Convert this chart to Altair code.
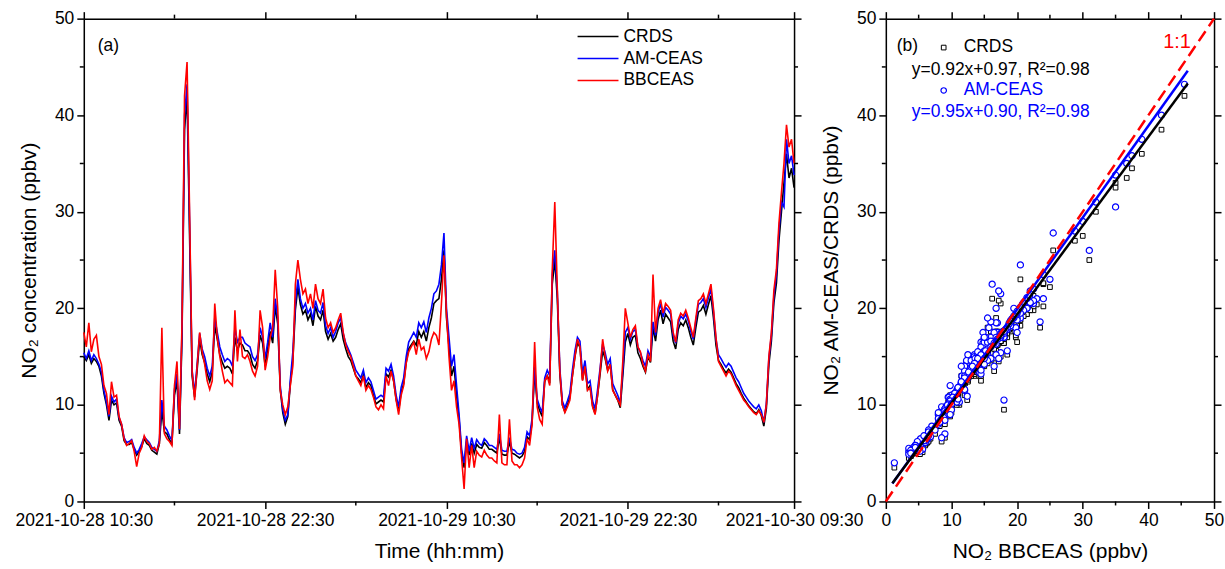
import altair as alt
import pandas as pd

FONT = "Liberation Sans"

# ---------------- data (10-min steps from 2021-10-28 10:30) ----------------
bbceas = [
    17.5, 16.0, 18.5, 15.5, 16.8, 17.2,
    15.0, 14.2, 12.0, 11.2, 9.0, 12.4,
    10.8, 11.0, 8.8, 8.0, 6.5, 5.8,
    6.0, 6.3, 5.2, 3.6, 5.0, 5.6,
    6.8, 6.2, 6.0, 5.4, 5.6, 5.2,
    6.0, 18.0, 7.0, 6.5, 6.2, 5.8,
    12.0, 14.5, 7.5, 18.5, 42.0, 45.5,
    30.0, 13.5, 10.5, 14.0, 17.5, 15.5,
    14.2, 12.5, 11.6, 12.5, 20.5, 17.0,
    15.0, 13.5, 12.3, 12.6, 12.3, 12.0,
    19.8, 14.5, 17.8, 15.0, 14.8, 15.2,
    14.5, 13.5, 13.0, 14.0, 19.8, 18.0,
    13.6, 15.0, 17.0, 18.0, 24.0, 20.0,
    11.5, 10.0, 9.0, 9.8, 12.0, 14.0,
    22.5, 25.0, 23.0, 21.5, 22.0, 20.5,
    21.5, 20.0, 22.5, 21.0, 20.5, 22.0,
    19.0, 18.0, 18.5, 17.5, 18.0, 18.8,
    19.5, 17.5, 16.2, 15.5, 15.0, 14.0,
    13.0, 12.5, 12.0, 13.0, 11.5, 12.0,
    11.6, 10.8, 9.8, 9.5, 10.0, 9.6,
    13.0, 12.0, 13.5, 12.5, 10.5, 9.0,
    11.0, 12.0, 14.3, 15.5, 16.0, 16.5,
    15.2, 16.8, 15.7, 16.0, 14.8, 15.5,
    16.8, 17.5, 17.2, 16.2, 20.5, 25.5,
    19.5, 15.0, 11.5, 12.5, 9.8, 8.0,
    4.5, 1.3, 6.5, 3.5, 5.8, 3.5,
    5.2, 4.8, 4.6, 5.3, 4.8, 4.5,
    4.5, 4.2, 4.0, 9.0, 4.0, 3.8,
    3.8, 8.5, 4.2, 3.8, 3.8, 3.5,
    3.8, 4.5, 6.5, 5.8, 8.0, 16.5,
    9.8, 8.5, 8.0, 12.5, 13.0, 12.0,
    24.0, 31.0, 22.0, 13.5, 10.0, 9.2,
    9.8, 10.5, 13.0, 15.0, 16.8, 16.0,
    12.5, 14.0, 11.5, 11.8, 9.8, 9.0,
    11.0, 13.5, 16.8, 15.0, 13.5, 14.2,
    11.5, 11.0, 10.5, 10.0, 14.5, 20.0,
    18.5, 17.0, 17.8, 18.2, 16.0, 15.5,
    14.2, 13.5, 15.2, 14.5, 23.5, 17.5,
    20.0, 20.9, 19.5, 20.5, 20.2, 19.8,
    17.5, 16.5, 18.8, 19.5, 19.2, 19.8,
    19.0, 18.0, 17.0, 19.0, 20.8, 21.0,
    21.5, 20.5, 21.5, 22.5, 20.0, 17.0,
    14.5, 14.0, 13.5, 13.0, 13.5, 13.2,
    12.6, 12.0, 11.5, 11.0, 10.5, 10.2,
    9.8, 9.5, 9.2, 9.0, 9.4, 9.0,
    8.2, 10.0, 15.0, 17.5, 21.9, 24.0,
    28.8, 32.0, 35.0, 39.0, 36.7, 37.5,
    35.0,
]

crds = [
    15.0, 14.6, 15.2, 14.3, 14.8, 14.5,
    14.0, 13.0, 11.2, 10.0, 8.4, 10.5,
    10.0, 10.2, 8.4, 7.8, 6.3, 5.9,
    5.9, 6.1, 5.4, 4.8, 5.2, 5.7,
    6.5, 6.0, 5.8, 5.3, 5.1, 4.9,
    6.0, 9.5, 7.2, 7.0, 6.4, 6.0,
    11.0, 12.5, 7.0, 17.0, 38.5, 42.0,
    27.5, 13.0, 10.8, 13.6, 16.8, 15.2,
    14.4, 13.2, 12.4, 13.4, 18.2, 16.8,
    15.2, 14.4, 13.8, 14.0, 13.8, 13.2,
    17.0, 15.6, 16.4, 16.2, 15.6, 15.6,
    15.2, 14.2, 13.8, 14.6, 17.2, 16.4,
    14.0, 15.8, 17.6, 16.4, 20.2, 18.4,
    11.6, 9.2, 8.0, 8.8, 12.2, 14.6,
    19.8, 22.2, 20.4, 19.4, 19.8, 18.8,
    19.4, 18.2, 20.2, 19.2, 18.8, 19.8,
    17.6, 16.8, 17.4, 16.6, 17.0, 17.8,
    18.4, 16.8, 15.8, 15.0, 14.6, 13.8,
    13.0, 12.7, 12.3, 13.1, 11.8, 12.3,
    12.0, 11.0, 10.1, 10.3, 10.5, 10.3,
    13.2, 12.9, 13.6, 12.5, 10.6, 9.4,
    11.3, 12.2, 14.4, 15.8, 16.2, 16.6,
    16.2, 17.6, 17.0, 17.6, 16.6, 18.0,
    19.0, 20.5, 20.8, 21.0, 23.0, 26.0,
    19.0, 16.0, 13.0, 14.0, 11.0, 8.5,
    5.0, 3.5, 6.2, 4.8, 6.0, 5.0,
    5.9, 5.6, 5.5, 6.1, 5.8, 5.4,
    5.4, 5.2, 5.0, 6.6, 4.9, 4.8,
    4.8, 6.2, 5.0, 4.9, 4.7, 4.5,
    4.7, 5.2, 6.7, 6.4, 8.2, 13.5,
    10.2, 9.4, 8.8, 12.4, 13.0, 12.5,
    22.5, 25.0, 21.0, 13.2, 10.0, 9.3,
    10.0, 10.8, 13.0, 15.0, 16.4, 16.0,
    12.6, 14.0, 11.6, 12.0, 9.9, 9.1,
    11.0, 13.2, 15.6, 14.8, 13.6, 14.2,
    11.6, 11.0, 10.5, 9.7, 13.0, 16.5,
    17.4, 16.2, 17.0, 17.2, 15.4, 14.8,
    14.0, 13.4, 15.0, 14.4, 18.0, 16.6,
    18.8, 19.8, 18.4, 19.4, 19.0, 18.6,
    16.6, 15.8, 17.8, 18.5, 18.2, 18.8,
    18.0, 17.0, 16.2, 18.0, 19.6, 19.8,
    20.3, 19.4, 20.4, 21.3, 19.0, 16.2,
    14.6, 14.2, 13.7, 13.3, 13.7, 13.4,
    12.8, 12.2, 11.8, 11.2, 10.7, 10.3,
    9.9, 9.6, 9.3, 9.1, 9.5, 8.9,
    7.8, 9.6, 14.2, 16.6, 20.6, 22.6,
    27.0, 30.0, 33.0, 36.0, 33.5, 34.5,
    32.5,
]

amceas = [
    15.4, 14.8, 15.6, 14.6, 15.2, 14.8,
    14.2, 13.4, 11.5, 10.3, 8.8, 10.9,
    10.3, 10.6, 8.7, 8.0, 6.6, 6.1,
    6.2, 6.4, 5.6, 5.0, 5.4, 6.0,
    6.7, 6.4, 6.1, 5.6, 5.4, 5.2,
    6.3, 10.5, 7.8, 7.4, 6.8, 6.3,
    11.6, 13.2, 7.4, 17.8, 40.0, 43.2,
    29.0, 13.6, 11.2, 14.2, 17.4, 15.8,
    15.0, 13.8, 13.0, 14.0, 19.0, 17.5,
    16.0, 15.2, 14.5, 14.8, 14.6, 14.0,
    18.0, 16.5, 17.0, 17.0, 16.4, 16.2,
    16.0, 15.0, 14.6, 15.2, 18.0, 17.0,
    14.8, 16.5, 18.5, 17.0, 21.0, 19.0,
    12.0, 9.5, 8.4, 9.0, 12.6, 15.5,
    20.5, 23.0, 21.0, 20.0, 20.5, 19.5,
    20.0, 18.8, 20.8, 19.8, 19.5, 20.6,
    18.2, 17.4, 18.0, 17.0, 17.6, 18.5,
    19.0, 17.4, 16.4, 15.8, 15.2, 14.4,
    13.6, 13.2, 12.8, 13.6, 12.3, 12.8,
    12.4, 11.5, 10.6, 10.8, 11.0, 10.8,
    13.8, 13.5, 14.2, 13.0, 11.0, 9.8,
    11.8, 12.8, 15.0, 16.5, 17.0, 17.5,
    17.0, 18.5, 18.0, 18.6, 17.5, 19.0,
    20.0, 21.5, 21.8, 22.5, 24.5, 27.8,
    20.0, 17.0, 14.0, 15.2, 12.0, 9.0,
    5.4, 4.0, 6.8, 5.2, 6.6, 5.5,
    6.4, 6.0, 5.8, 6.5, 6.2, 5.8,
    5.8, 5.6, 5.4, 7.0, 5.3, 5.2,
    5.2, 6.6, 5.4, 5.3, 5.0, 4.9,
    5.0, 5.6, 7.2, 6.8, 8.6, 14.0,
    10.6, 9.8, 9.2, 12.8, 13.6, 13.0,
    23.5, 26.0, 21.8, 13.8, 10.4, 9.7,
    10.4, 11.2, 13.6, 15.6, 17.0, 16.6,
    13.2, 14.6, 12.2, 12.5, 10.4, 9.6,
    11.6, 13.8, 16.3, 15.4, 14.2, 14.8,
    12.2, 11.6, 11.0, 10.2, 13.6, 17.5,
    18.0, 16.8, 17.6, 17.8, 16.0, 15.4,
    14.6, 14.0, 15.6, 15.0, 18.6, 17.2,
    19.5, 20.5, 19.1, 20.1, 19.8, 19.4,
    17.2, 16.4, 18.4, 19.2, 18.9, 19.4,
    18.7, 17.6, 16.8, 18.7, 20.4, 20.6,
    21.0, 20.1, 21.1, 22.0, 19.7, 16.8,
    15.2, 14.8, 14.3, 13.9, 14.3, 14.0,
    13.4, 12.8, 12.4, 11.8, 11.2, 10.8,
    10.4, 10.1, 9.8, 9.6, 10.0, 9.4,
    8.2, 10.1, 14.8, 17.2, 21.3, 23.5,
    28.0, 31.0, 30.5, 37.5, 35.0, 35.8,
    33.8,
]

start_time = "2021-10-28 10:30"
step_minutes = 10

series_names = ["CRDS", "AM-CEAS", "BBCEAS"]
series_colors = ["#000000", "#0000ff", "#ff0000"]

# linear fits printed in panel (b): (slope, intercept)
crds_fit = (0.92, 0.97)
am_fit = (0.95, 0.90)
fit_x_range = [1.0, 46.0]
one_to_one = [0, 50]

conc_major = [0, 10, 20, 30, 40, 50]
conc_minor = [5, 15, 25, 35, 45]
x_major_times = ["2021-10-28 10:30", "2021-10-28 22:30", "2021-10-29 10:30",
                 "2021-10-29 22:30", "2021-10-30 09:30"]
x_minor_times = ["2021-10-28 16:30", "2021-10-29 04:30", "2021-10-29 16:30",
                 "2021-10-30 04:30"]

# ---------------- helpers ----------------
n = min(len(bbceas), len(crds), len(amceas))
times = pd.date_range(start_time, periods=n, freq=f"{step_minutes}min")


def dt(s):
    t = pd.Timestamp(s)
    return alt.DateTime(year=t.year, month=t.month, date=t.day,
                        hours=t.hour, minutes=t.minute)


def ax(orient, title=None, labels=True, values=None, fmt=None, title_pad=10):
    d = dict(orient=orient, grid=False, labels=labels, ticks=True, tickSize=7,
             tickWidth=1.5, tickColor="black", domain=True, domainColor="black",
             domainWidth=1.5, labelFont=FONT, labelFontSize=17.5, labelColor="black",
             labelPadding=3, labelFlush=False, labelOverlap=False,
             titleFont=FONT, titleFontSize=21, titleFontWeight="normal",
             titleColor="black", titlePadding=title_pad, title=title)
    if values is not None:
        d["values"] = values
    if fmt is not None:
        d["format"] = fmt
    return alt.Axis(**d)


def text_at(txt, x, y, color="black", size=17.5, align="left"):
    return alt.Chart(pd.DataFrame({"t": [txt]})).mark_text(
        align=align, baseline="middle", font=FONT, fontSize=size, color=color
    ).encode(x=alt.value(x), y=alt.value(y), text="t:N")


W1, H1 = 712, 484
W2, H2 = 329, 484
TICK = dict(color="black", strokeWidth=1.5)

# ---------------- panel (a): time series ----------------
xs = alt.Scale(domain=[dt(x_major_times[0]), dt(x_major_times[-1])], nice=False)
ys = alt.Scale(domain=[0, 50], nice=False)
x_vals = [dt(s) for s in x_major_times]

ts = {name: pd.DataFrame({"time": times, "no2": vals[:n]})
      for name, vals in zip(series_names, [crds, amceas, bbceas])}

lines = []
for i, (name, col) in enumerate(zip(series_names, series_colors)):
    if i == 0:
        xenc = alt.X("time:T", scale=xs,
                     axis=ax("bottom", "Time (hh:mm)", values=x_vals,
                             fmt="%Y-%m-%d %H:%M", title_pad=12))
        yenc = alt.Y("no2:Q", scale=ys,
                     axis=ax("left", "NO₂ concentration (ppbv)", values=conc_major,
                             title_pad=15))
    else:
        xenc = alt.X("time:T", scale=xs, axis=None)
        yenc = alt.Y("no2:Q", scale=ys, axis=None)
    lines.append(alt.Chart(ts[name]).mark_line(color=col, strokeWidth=1.6)
                 .encode(x=xenc, y=yenc))

mirror_a = alt.Chart(ts["CRDS"]).mark_line(strokeOpacity=0).encode(
    x=alt.X("time:T", scale=xs, axis=ax("top", None, labels=False, values=x_vals)),
    y=alt.Y("no2:Q", scale=ys, axis=ax("right", None, labels=False, values=conc_major)),
)

mx = pd.DataFrame({"time": pd.to_datetime(x_minor_times)})
my = pd.DataFrame({"no2": conc_minor})
minor_a = [
    alt.Chart(mx).mark_rule(**TICK).encode(
        x=alt.X("time:T", scale=xs, axis=None), y=alt.value(H1), y2=alt.value(H1 + 4)),
    alt.Chart(mx).mark_rule(**TICK).encode(
        x=alt.X("time:T", scale=xs, axis=None), y=alt.value(-4), y2=alt.value(0)),
    alt.Chart(my).mark_rule(**TICK).encode(
        y=alt.Y("no2:Q", scale=ys, axis=None), x=alt.value(-4), x2=alt.value(0)),
    alt.Chart(my).mark_rule(**TICK).encode(
        y=alt.Y("no2:Q", scale=ys, axis=None), x=alt.value(W1), x2=alt.value(W1 + 4)),
]

legend_a = []
for k, (name, col) in enumerate(zip(series_names, series_colors)):
    yy = 18 + 22 * k
    legend_a.append(alt.Chart(pd.DataFrame({"s": [name]})).mark_rule(
        color=col, strokeWidth=1.5).encode(x=alt.value(495), x2=alt.value(536),
                                          y=alt.value(yy)))
    legend_a.append(text_at(name, 541, yy))

panel_a = alt.layer(*lines, mirror_a, *minor_a, *legend_a,
                    text_at("(a)", 14, 27)).properties(width=W1, height=H1)

# ---------------- panel (b): scatter ----------------
xs2 = alt.Scale(domain=[0, 50], nice=False)
scatter_df = pd.DataFrame({"bb": bbceas[:n], "crds": crds[:n], "am": amceas[:n]})

squares = alt.Chart(scatter_df).mark_point(
    shape="square", filled=True, fill="white", stroke="black", strokeWidth=1,
    size=22, opacity=1).encode(
    x=alt.X("bb:Q", scale=xs2, axis=ax("bottom", "NO₂ BBCEAS (ppbv)",
                                       values=conc_major, title_pad=12)),
    y=alt.Y("crds:Q", scale=ys, axis=ax("left", "NO₂ AM-CEAS/CRDS (ppbv)",
                                        values=conc_major, title_pad=15)),
)
circles = alt.Chart(scatter_df).mark_point(
    shape="circle", filled=True, fill="white", stroke="#0000ff", strokeWidth=1.2,
    size=38, opacity=1).encode(
    x=alt.X("bb:Q", scale=xs2, axis=None),
    y=alt.Y("am:Q", scale=ys, axis=None),
)

fit_df = pd.DataFrame({
    "x": fit_x_range,
    "yc": [crds_fit[0] * v + crds_fit[1] for v in fit_x_range],
    "ya": [am_fit[0] * v + am_fit[1] for v in fit_x_range],
})
fit_a = alt.Chart(fit_df).mark_line(color="#0000ff", strokeWidth=2.5).encode(
    x=alt.X("x:Q", scale=xs2, axis=None), y=alt.Y("ya:Q", scale=ys, axis=None))
fit_c = alt.Chart(fit_df).mark_line(color="black", strokeWidth=2.5).encode(
    x=alt.X("x:Q", scale=xs2, axis=None), y=alt.Y("yc:Q", scale=ys, axis=None))
one_df = pd.DataFrame({"x": one_to_one, "y": one_to_one})
one_line = alt.Chart(one_df).mark_line(color="#ff0000", strokeWidth=2.5,
                                       strokeDash=[12, 6]).encode(
    x=alt.X("x:Q", scale=xs2, axis=None), y=alt.Y("y:Q", scale=ys, axis=None))

mirror_b = alt.Chart(scatter_df).mark_point(opacity=0).encode(
    x=alt.X("bb:Q", scale=xs2, axis=ax("top", None, labels=False, values=conc_major)),
    y=alt.Y("crds:Q", scale=ys, axis=ax("right", None, labels=False, values=conc_major)),
)
mb_x = pd.DataFrame({"bb": conc_minor})
mb_y = pd.DataFrame({"crds": conc_minor})
minor_b = [
    alt.Chart(mb_x).mark_rule(**TICK).encode(
        x=alt.X("bb:Q", scale=xs2, axis=None), y=alt.value(H2), y2=alt.value(H2 + 4)),
    alt.Chart(mb_x).mark_rule(**TICK).encode(
        x=alt.X("bb:Q", scale=xs2, axis=None), y=alt.value(-4), y2=alt.value(0)),
    alt.Chart(mb_y).mark_rule(**TICK).encode(
        y=alt.Y("crds:Q", scale=ys, axis=None), x=alt.value(-4), x2=alt.value(0)),
    alt.Chart(mb_y).mark_rule(**TICK).encode(
        y=alt.Y("crds:Q", scale=ys, axis=None), x=alt.value(W2), x2=alt.value(W2 + 4)),
]

sym_sq = alt.Chart(pd.DataFrame({"s": ["CRDS"]})).mark_point(
    shape="square", filled=True, fill="white", stroke="black", strokeWidth=1,
    size=22, opacity=1).encode(x=alt.value(58), y=alt.value(29))
sym_ci = alt.Chart(pd.DataFrame({"s": ["AM-CEAS"]})).mark_point(
    shape="circle", filled=True, fill="white", stroke="#0000ff", strokeWidth=1.2,
    size=30, opacity=1).encode(x=alt.value(58), y=alt.value(72))

annot_b = [
    text_at("(b)", 11, 27),
    sym_sq, text_at("CRDS", 78, 28),
    text_at(f"y={crds_fit[0]:.2f}x+{crds_fit[1]:.2f}, R²=0.98", 26, 51),
    sym_ci, text_at("AM-CEAS", 78, 72, color="#0000ff"),
    text_at(f"y={am_fit[0]:.2f}x+{am_fit[1]:.2f}, R²=0.98", 26, 94, color="#0000ff"),
    text_at("1:1", 278, 23, color="#ff0000", size=20),
]

panel_b = alt.layer(squares, circles, fit_a, fit_c, one_line, mirror_b, *minor_b,
                    *annot_b).properties(width=W2, height=H2)

chart = alt.hconcat(panel_a, panel_b, spacing=92, bounds="flush").properties(
    padding={"left": 14, "top": 8, "right": 0, "bottom": 0}
).configure_view(stroke=None).configure(font=FONT)

chart.save("out.html", embed_options={"renderer": "svg", "actions": False})
